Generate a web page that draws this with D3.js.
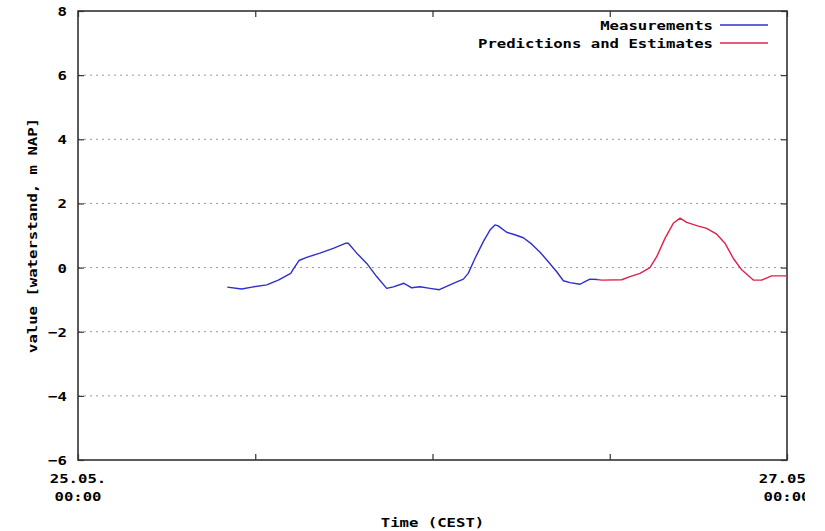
<!DOCTYPE html>
<html>
<head>
<meta charset="utf-8">
<script src="https://cdn.jsdelivr.net/npm/d3@7"></script>
<style>
  body { margin: 0; background: #fff; }
  text { font-family: "DejaVu Sans Mono", monospace; font-weight: bold; fill: #000; }
</style>
</head>
<body>
<svg id="chart" width="825" height="531"></svg>
<script>
// hours after 25.05. 00:00 and water level [m NAP]
var measHours = [10.11, 11.08, 11.87, 12.78, 13.56, 14.40, 14.62, 14.96, 15.48, 16.38, 17.28, 18.14, 18.30,
  18.87, 19.55, 20.22, 20.90, 21.35, 22.07, 22.59, 23.15, 23.83, 24.46, 24.73, 25.41, 26.09, 26.42,
  26.88, 27.44, 27.89, 28.23, 28.45, 29.02, 29.47, 30.15, 30.72, 31.28, 31.84, 32.41, 32.86, 33.31,
  33.99, 34.32, 34.66, 35.14];
var measValues = [-0.61, -0.67, -0.60, -0.54, -0.39, -0.18, -0.02, 0.22, 0.32, 0.45, 0.60, 0.76, 0.76,
  0.45, 0.13, -0.28, -0.65, -0.60, -0.49, -0.63, -0.60, -0.65, -0.69, -0.63, -0.49, -0.36, -0.18,
  0.29, 0.81, 1.17, 1.33, 1.30, 1.10, 1.04, 0.93, 0.73, 0.48, 0.18, -0.13, -0.41, -0.47,
  -0.52, -0.44, -0.36, -0.37];

var predHours = [35.14, 35.45, 36.81, 37.37, 38.05, 38.72, 39.18, 39.74, 40.30, 40.76, 41.21, 41.89,
  42.56, 43.24, 43.80, 44.36, 44.93, 45.72, 46.29, 46.96, 47.75, 48.00];
var predValues = [-0.37, -0.39, -0.38, -0.28, -0.18, 0.00, 0.34, 0.91, 1.38, 1.54, 1.41, 1.31,
  1.22, 1.04, 0.76, 0.29, -0.07, -0.39, -0.39, -0.26, -0.26, -0.26];

var yTicks = [-6, -4, -2, 0, 2, 4, 6, 8];
var xTickHours = [0, 12, 24, 36, 48];
var xTickLabels = {0: ["25.05.", "00:00"], 48: ["27.05.", "00:00"]};
var seriesNames = ["Measurements", "Predictions and Estimates"];
var seriesColors = ["#2f2fcc", "#e0204c"];

var charW = 9.4;
var t0 = new Date(2011, 4, 25, 0, 0);
function toDate(h) { return new Date(t0.getTime() + h * 36e5); }

var svg = d3.select("#chart");
var margin = {left: 78, top: 11, right: 787, bottom: 460};

var x = d3.scaleTime()
  .domain([toDate(0), toDate(48)])
  .range([margin.left, margin.right]);
var y = d3.scaleLinear()
  .domain([-6, 8])
  .range([margin.bottom, margin.top]);

// original image is cut off on the right
svg.append("clipPath").attr("id", "cut")
  .append("rect").attr("x", 0).attr("y", 0).attr("width", 805).attr("height", 531);
var root = svg.append("g").attr("clip-path", "url(#cut)");

function stretch(sel) {
  sel.each(function () {
    var n = this.textContent.length;
    d3.select(this).attr("textLength", n * charW).attr("lengthAdjust", "spacingAndGlyphs");
  });
}

// grid
root.append("g")
  .selectAll("line")
  .data(yTicks.filter(function (d) { return d > -6 && d < 8; }))
  .enter().append("line")
  .attr("x1", margin.left).attr("x2", margin.right)
  .attr("y1", function (d) { return y(d); }).attr("y2", function (d) { return y(d); })
  .attr("stroke", "#999").attr("stroke-width", 1)
  .attr("stroke-dasharray", "2,4");

// axes (inward ticks, gnuplot style)
var axLeft = root.append("g")
  .attr("transform", "translate(" + margin.left + ",0)")
  .call(d3.axisLeft(y).tickValues(yTicks).tickSize(-6).tickPadding(11).tickFormat(d3.format("d")));
var axRight = root.append("g")
  .attr("transform", "translate(" + margin.right + ",0)")
  .call(d3.axisRight(y).tickValues(yTicks).tickSize(-6).tickFormat(""));
var axBottom = root.append("g")
  .attr("transform", "translate(0," + margin.bottom + ")")
  .call(d3.axisBottom(x).tickValues(xTickHours.map(toDate)).tickSize(-6).tickFormat(""));
var axTop = root.append("g")
  .attr("transform", "translate(0," + margin.top + ")")
  .call(d3.axisTop(x).tickValues(xTickHours.map(toDate)).tickSize(-6).tickFormat(""));

[axLeft, axRight, axBottom, axTop].forEach(function (g) {
  g.select(".domain").remove();
  g.selectAll("line").attr("stroke", "#333").attr("stroke-width", 1.2);
});
axLeft.attr("font-size", null).attr("font-family", null);
axLeft.selectAll("text")
  .attr("font-size", 13)
  .attr("dy", "0.35em")
  .call(stretch);

// frame
root.append("rect")
  .attr("x", margin.left).attr("y", margin.top)
  .attr("width", margin.right - margin.left).attr("height", margin.bottom - margin.top)
  .attr("fill", "none").attr("stroke", "#333").attr("stroke-width", 1.6);

// x tick labels (two lines, ends only)
xTickHours.forEach(function (h) {
  var lab = xTickLabels[h];
  if (!lab) return;
  var t = root.append("text")
    .attr("text-anchor", "middle")
    .attr("font-size", 13);
  lab.forEach(function (s, i) {
    t.append("tspan")
      .attr("x", x(toDate(h)))
      .attr("y", 483 + i * 18)
      .text(s)
      .attr("textLength", s.length * charW)
      .attr("lengthAdjust", "spacingAndGlyphs");
  });
});

// axis titles
root.append("text")
  .attr("x", x(toDate(24))).attr("y", 527)
  .attr("text-anchor", "middle").attr("font-size", 13)
  .text("Time (CEST)").call(stretch);
root.append("text")
  .attr("transform", "translate(37," + ((margin.top + margin.bottom) / 2) + ") rotate(-90)")
  .attr("text-anchor", "middle").attr("font-size", 13)
  .text("value [waterstand, m NAP]").call(stretch);

// lines
var line = d3.line()
  .x(function (d) { return x(toDate(d[0])); })
  .y(function (d) { return y(d[1]); });

var series = [
  d3.zip(measHours, measValues),
  d3.zip(predHours, predValues)
];
root.append("g").selectAll("path")
  .data(series)
  .enter().append("path")
  .attr("d", line)
  .attr("fill", "none")
  .attr("stroke", function (d, i) { return seriesColors[i]; })
  .attr("stroke-width", 1.4)
  .attr("stroke-linejoin", "round");

// legend
var legend = root.append("g").selectAll("g")
  .data(seriesNames)
  .enter().append("g")
  .attr("transform", function (d, i) { return "translate(0," + (25 + i * 18) + ")"; });
legend.append("text")
  .attr("x", 713).attr("dy", "0.35em")
  .attr("text-anchor", "end").attr("font-size", 13)
  .text(function (d) { return d; })
  .call(stretch);
legend.append("line")
  .attr("x1", 720).attr("x2", 768)
  .attr("stroke", function (d, i) { return seriesColors[i]; })
  .attr("stroke-width", 1.4);
</script>
</body>
</html>
